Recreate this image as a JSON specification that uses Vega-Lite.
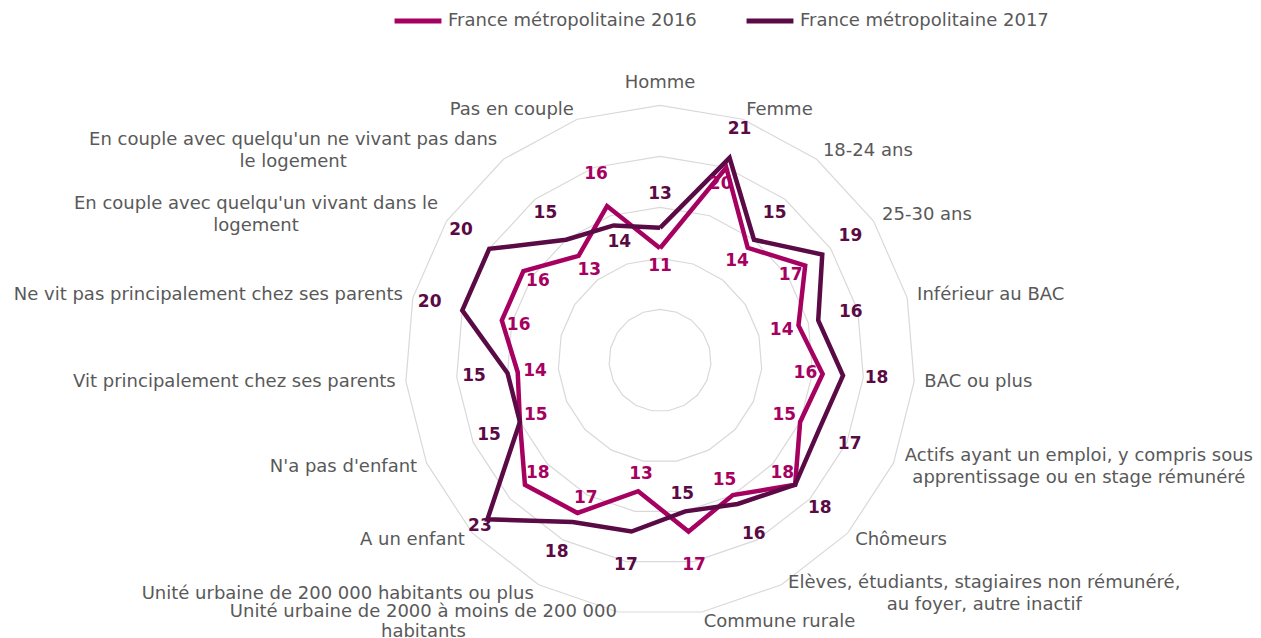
{
  "$schema": "https://vega.github.io/schema/vega-lite/v6.json",
  "width": 1261,
  "height": 638,
  "autosize": {"type": "none"},
  "padding": 0,
  "background": "white",
  "config": {"view": {"stroke": null}, "font": "DejaVu Sans"},
  "datasets": {
    "vals": [
      {"i": 0, "s": "France métropolitaine 2016", "v": 11}, {"i": 0, "s": "France métropolitaine 2017", "v": 13},
      {"i": 1, "s": "France métropolitaine 2016", "v": 20}, {"i": 1, "s": "France métropolitaine 2017", "v": 21},
      {"i": 2, "s": "France métropolitaine 2016", "v": 14}, {"i": 2, "s": "France métropolitaine 2017", "v": 15},
      {"i": 3, "s": "France métropolitaine 2016", "v": 17}, {"i": 3, "s": "France métropolitaine 2017", "v": 19},
      {"i": 4, "s": "France métropolitaine 2016", "v": 14}, {"i": 4, "s": "France métropolitaine 2017", "v": 16},
      {"i": 5, "s": "France métropolitaine 2016", "v": 16}, {"i": 5, "s": "France métropolitaine 2017", "v": 18},
      {"i": 6, "s": "France métropolitaine 2016", "v": 15}, {"i": 6, "s": "France métropolitaine 2017", "v": 17},
      {"i": 7, "s": "France métropolitaine 2016", "v": 18}, {"i": 7, "s": "France métropolitaine 2017", "v": 18},
      {"i": 8, "s": "France métropolitaine 2016", "v": 15}, {"i": 8, "s": "France métropolitaine 2017", "v": 16},
      {"i": 9, "s": "France métropolitaine 2016", "v": 17}, {"i": 9, "s": "France métropolitaine 2017", "v": 15},
      {"i": 10, "s": "France métropolitaine 2016", "v": 13}, {"i": 10, "s": "France métropolitaine 2017", "v": 17},
      {"i": 11, "s": "France métropolitaine 2016", "v": 17}, {"i": 11, "s": "France métropolitaine 2017", "v": 18},
      {"i": 12, "s": "France métropolitaine 2016", "v": 18}, {"i": 12, "s": "France métropolitaine 2017", "v": 23},
      {"i": 13, "s": "France métropolitaine 2016", "v": 15}, {"i": 13, "s": "France métropolitaine 2017", "v": 15},
      {"i": 14, "s": "France métropolitaine 2016", "v": 14}, {"i": 14, "s": "France métropolitaine 2017", "v": 15},
      {"i": 15, "s": "France métropolitaine 2016", "v": 16}, {"i": 15, "s": "France métropolitaine 2017", "v": 20},
      {"i": 16, "s": "France métropolitaine 2016", "v": 16}, {"i": 16, "s": "France métropolitaine 2017", "v": 20},
      {"i": 17, "s": "France métropolitaine 2016", "v": 13}, {"i": 17, "s": "France métropolitaine 2017", "v": 15},
      {"i": 18, "s": "France métropolitaine 2016", "v": 16}, {"i": 18, "s": "France métropolitaine 2017", "v": 14},
      {"i": 19, "s": "France métropolitaine 2016", "v": 11}, {"i": 19, "s": "France métropolitaine 2017", "v": 13}
    ],
    "cats": [
      {"i": 0, "label": "Homme", "rings": [5, 10, 15, 20, 25]},
      {"i": 1, "label": "Femme", "rings": [5, 10, 15, 20, 25]},
      {"i": 2, "label": "18-24 ans", "rings": [5, 10, 15, 20, 25]},
      {"i": 3, "label": "25-30 ans", "rings": [5, 10, 15, 20, 25]},
      {"i": 4, "label": "Inférieur au BAC", "rings": [5, 10, 15, 20, 25]},
      {"i": 5, "label": "BAC ou plus", "rings": [5, 10, 15, 20, 25]},
      {"i": 6, "label": ["Actifs ayant un emploi, y compris sous", "apprentissage ou en stage rémunéré"], "rings": [5, 10, 15, 20, 25]},
      {"i": 7, "label": "Chômeurs", "rings": [5, 10, 15, 20, 25]},
      {"i": 8, "label": ["Elèves, étudiants, stagiaires non rémunéré,", "au foyer, autre inactif"], "rings": [5, 10, 15, 20, 25]},
      {"i": 9, "label": "Commune rurale", "rings": [5, 10, 15, 20, 25]},
      {"i": 10, "label": ["Unité urbaine de 2000 à moins de 200 000", "habitants"], "rings": [5, 10, 15, 20, 25]},
      {"i": 11, "label": "Unité urbaine de 200 000 habitants ou plus", "rings": [5, 10, 15, 20, 25]},
      {"i": 12, "label": "A un enfant", "rings": [5, 10, 15, 20, 25]},
      {"i": 13, "label": "N'a pas d'enfant", "rings": [5, 10, 15, 20, 25]},
      {"i": 14, "label": "Vit principalement chez ses parents", "rings": [5, 10, 15, 20, 25]},
      {"i": 15, "label": "Ne vit pas principalement chez ses parents", "rings": [5, 10, 15, 20, 25]},
      {"i": 16, "label": ["En couple avec quelqu'un vivant dans le", "logement"], "rings": [5, 10, 15, 20, 25]},
      {"i": 17, "label": ["En couple avec quelqu'un ne vivant pas dans", "le logement"], "rings": [5, 10, 15, 20, 25]},
      {"i": 18, "label": "Pas en couple", "rings": [5, 10, 15, 20, 25]},
      {"i": 19, "label": "", "rings": [5, 10, 15, 20, 25]}
    ]
  },
  "layer": [
    {
      "data": {"name": "cats"},
      "transform": [
        {"flatten": ["rings"], "as": ["ring"]},
        {"calculate": "datum.i * 2 * PI / 19", "as": "a"},
        {"calculate": "datum.ring * sin(datum.a)", "as": "x"},
        {"calculate": "datum.ring * cos(datum.a)", "as": "y"}
      ],
      "mark": {"type": "line", "color": "#D9D9D9", "strokeWidth": 1.2},
      "encoding": {
        "x": {"field": "x", "type": "quantitative", "scale": {"domain": [-64.71, 58.92], "nice": false, "zero": false}, "axis": null},
        "y": {"field": "y", "type": "quantitative", "scale": {"domain": [-27.21, 35.34], "nice": false, "zero": false}, "axis": null},
        "detail": {"field": "ring", "type": "nominal"},
        "order": {"field": "i", "type": "quantitative"}
      }
    },
    {
      "data": {"name": "vals"},
      "transform": [
        {"calculate": "datum.i * 2 * PI / 19", "as": "a"},
        {"calculate": "datum.v * sin(datum.a)", "as": "x"},
        {"calculate": "datum.v * cos(datum.a)", "as": "y"}
      ],
      "mark": {"type": "line", "strokeWidth": 4.5, "strokeJoin": "miter"},
      "encoding": {
        "x": {"field": "x", "type": "quantitative", "scale": {"domain": [-64.71, 58.92], "nice": false, "zero": false}, "axis": null},
        "y": {"field": "y", "type": "quantitative", "scale": {"domain": [-27.21, 35.34], "nice": false, "zero": false}, "axis": null},
        "order": {"field": "i", "type": "quantitative"},
        "color": {
          "field": "s", "type": "nominal",
          "scale": {"domain": ["France métropolitaine 2016", "France métropolitaine 2017"], "range": ["#A60061", "#5A0A44"]},
          "legend": {
            "title": null, "orient": "none", "legendX": 392, "legendY": -5, "direction": "horizontal",
            "symbolType": "stroke", "symbolSize": 2200, "symbolStrokeWidth": 5,
            "labelFontSize": 18, "labelColor": "#595959", "labelFont": "DejaVu Sans", "labelLimit": 0,
            "columnPadding": 39, "labelOffset": 4, "padding": 0
          }
        }
      }
    },
    {
      "data": {"name": "vals"},
      "transform": [
        {"filter": "datum.i < 19"},
        {"joinaggregate": [{"op": "max", "field": "v", "as": "mx"}, {"op": "min", "field": "v", "as": "mn"}], "groupby": ["i"]},
        {"calculate": "(datum.v == datum.mx && (datum.v > datum.mn || datum.s == 'France métropolitaine 2017')) ? min(datum.v + 3.3, 24) : datum.v - 1.7", "as": "lr"},
        {"calculate": "datum.i * 2 * PI / 19", "as": "a"},
        {"calculate": "datum.lr * sin(datum.a)", "as": "x"},
        {"calculate": "datum.lr * cos(datum.a)", "as": "y"}
      ],
      "mark": {"type": "text", "fontSize": 17, "fontWeight": "bold", "font": "DejaVu Sans", "align": "center", "baseline": "middle"},
      "encoding": {
        "x": {"field": "x", "type": "quantitative", "scale": {"domain": [-64.71, 58.92], "nice": false, "zero": false}, "axis": null},
        "y": {"field": "y", "type": "quantitative", "scale": {"domain": [-27.21, 35.34], "nice": false, "zero": false}, "axis": null},
        "text": {"field": "v", "type": "quantitative"},
        "color": {"field": "s", "type": "nominal", "scale": {"domain": ["France métropolitaine 2016", "France métropolitaine 2017"], "range": ["#A60061", "#5A0A44"]}, "legend": null}
      }
    },
    {
      "data": {"name": "cats"},
      "transform": [
        {"filter": "datum.i == 0"},
        {"calculate": "27.2 * sin(datum.i * 2 * PI / 19)", "as": "x"},
        {"calculate": "27.2 * cos(datum.i * 2 * PI / 19)", "as": "y"}
      ],
      "mark": {"type": "text", "fontSize": 18, "font": "DejaVu Sans", "color": "#595959", "align": "center", "baseline": "middle"},
      "encoding": {
        "x": {"field": "x", "type": "quantitative", "scale": {"domain": [-64.71, 58.92], "nice": false, "zero": false}, "axis": null},
        "y": {"field": "y", "type": "quantitative", "scale": {"domain": [-27.21, 35.34], "nice": false, "zero": false}, "axis": null},
        "text": {"field": "label"}
      }
    },
    {
      "data": {"name": "cats"},
      "transform": [
        {"filter": "datum.i >= 1 && datum.i <= 9 && datum.i != 6 && datum.i != 8"},
        {"calculate": "26 * sin(datum.i * 2 * PI / 19)", "as": "x"},
        {"calculate": "26 * cos(datum.i * 2 * PI / 19)", "as": "y"}
      ],
      "mark": {"type": "text", "fontSize": 18, "font": "DejaVu Sans", "color": "#595959", "align": "left", "baseline": "middle"},
      "encoding": {
        "x": {"field": "x", "type": "quantitative", "scale": {"domain": [-64.71, 58.92], "nice": false, "zero": false}, "axis": null},
        "y": {"field": "y", "type": "quantitative", "scale": {"domain": [-27.21, 35.34], "nice": false, "zero": false}, "axis": null},
        "text": {"field": "label"}
      }
    },
    {
      "data": {"name": "cats"},
      "transform": [
        {"filter": "datum.i >= 11 && datum.i <= 18 && datum.i != 16 && datum.i != 17"},
        {"calculate": "26 * sin(datum.i * 2 * PI / 19)", "as": "x"},
        {"calculate": "26 * cos(datum.i * 2 * PI / 19)", "as": "y"}
      ],
      "mark": {"type": "text", "fontSize": 18, "font": "DejaVu Sans", "color": "#595959", "align": "right", "baseline": "middle"},
      "encoding": {
        "x": {"field": "x", "type": "quantitative", "scale": {"domain": [-64.71, 58.92], "nice": false, "zero": false}, "axis": null},
        "y": {"field": "y", "type": "quantitative", "scale": {"domain": [-27.21, 35.34], "nice": false, "zero": false}, "axis": null},
        "text": {"field": "label"}
      }
    },
    {
      "data": {"name": "cats"},
      "transform": [
        {"filter": "datum.i == 6"},
        {"calculate": "26 * sin(datum.i * 2 * PI / 19)", "as": "x"},
        {"calculate": "26 * cos(datum.i * 2 * PI / 19)", "as": "y"}
      ],
      "mark": {"type": "text", "fontSize": 18, "font": "DejaVu Sans", "color": "#595959", "align": "center", "baseline": "middle", "lineHeight": 22, "dx": 176, "dy": -11},
      "encoding": {
        "x": {"field": "x", "type": "quantitative", "scale": {"domain": [-64.71, 58.92], "nice": false, "zero": false}, "axis": null},
        "y": {"field": "y", "type": "quantitative", "scale": {"domain": [-27.21, 35.34], "nice": false, "zero": false}, "axis": null},
        "text": {"field": "label"}
      }
    },
    {
      "data": {"name": "cats"},
      "transform": [
        {"filter": "datum.i == 8"},
        {"calculate": "26 * sin(datum.i * 2 * PI / 19)", "as": "x"},
        {"calculate": "26 * cos(datum.i * 2 * PI / 19)", "as": "y"}
      ],
      "mark": {"type": "text", "fontSize": 18, "font": "DejaVu Sans", "color": "#595959", "align": "center", "baseline": "middle", "lineHeight": 22, "dx": 198, "dy": -11},
      "encoding": {
        "x": {"field": "x", "type": "quantitative", "scale": {"domain": [-64.71, 58.92], "nice": false, "zero": false}, "axis": null},
        "y": {"field": "y", "type": "quantitative", "scale": {"domain": [-27.21, 35.34], "nice": false, "zero": false}, "axis": null},
        "text": {"field": "label"}
      }
    },
    {
      "data": {"name": "cats"},
      "transform": [
        {"filter": "datum.i == 10"},
        {"calculate": "26 * sin(datum.i * 2 * PI / 19)", "as": "x"},
        {"calculate": "26 * cos(datum.i * 2 * PI / 19)", "as": "y"}
      ],
      "mark": {"type": "text", "fontSize": 18, "font": "DejaVu Sans", "color": "#595959", "align": "center", "baseline": "middle", "lineHeight": 20, "dx": -193, "dy": -10},
      "encoding": {
        "x": {"field": "x", "type": "quantitative", "scale": {"domain": [-64.71, 58.92], "nice": false, "zero": false}, "axis": null},
        "y": {"field": "y", "type": "quantitative", "scale": {"domain": [-27.21, 35.34], "nice": false, "zero": false}, "axis": null},
        "text": {"field": "label"}
      }
    },
    {
      "data": {"name": "cats"},
      "transform": [
        {"filter": "datum.i == 16"},
        {"calculate": "26 * sin(datum.i * 2 * PI / 19)", "as": "x"},
        {"calculate": "26 * cos(datum.i * 2 * PI / 19)", "as": "y"}
      ],
      "mark": {"type": "text", "fontSize": 18, "font": "DejaVu Sans", "color": "#595959", "align": "center", "baseline": "middle", "lineHeight": 22, "dx": -182, "dy": -11},
      "encoding": {
        "x": {"field": "x", "type": "quantitative", "scale": {"domain": [-64.71, 58.92], "nice": false, "zero": false}, "axis": null},
        "y": {"field": "y", "type": "quantitative", "scale": {"domain": [-27.21, 35.34], "nice": false, "zero": false}, "axis": null},
        "text": {"field": "label"}
      }
    },
    {
      "data": {"name": "cats"},
      "transform": [
        {"filter": "datum.i == 17"},
        {"calculate": "26 * sin(datum.i * 2 * PI / 19)", "as": "x"},
        {"calculate": "26 * cos(datum.i * 2 * PI / 19)", "as": "y"}
      ],
      "mark": {"type": "text", "fontSize": 18, "font": "DejaVu Sans", "color": "#595959", "align": "center", "baseline": "middle", "lineHeight": 22, "dx": -204, "dy": -11},
      "encoding": {
        "x": {"field": "x", "type": "quantitative", "scale": {"domain": [-64.71, 58.92], "nice": false, "zero": false}, "axis": null},
        "y": {"field": "y", "type": "quantitative", "scale": {"domain": [-27.21, 35.34], "nice": false, "zero": false}, "axis": null},
        "text": {"field": "label"}
      }
    }
  ]
}
